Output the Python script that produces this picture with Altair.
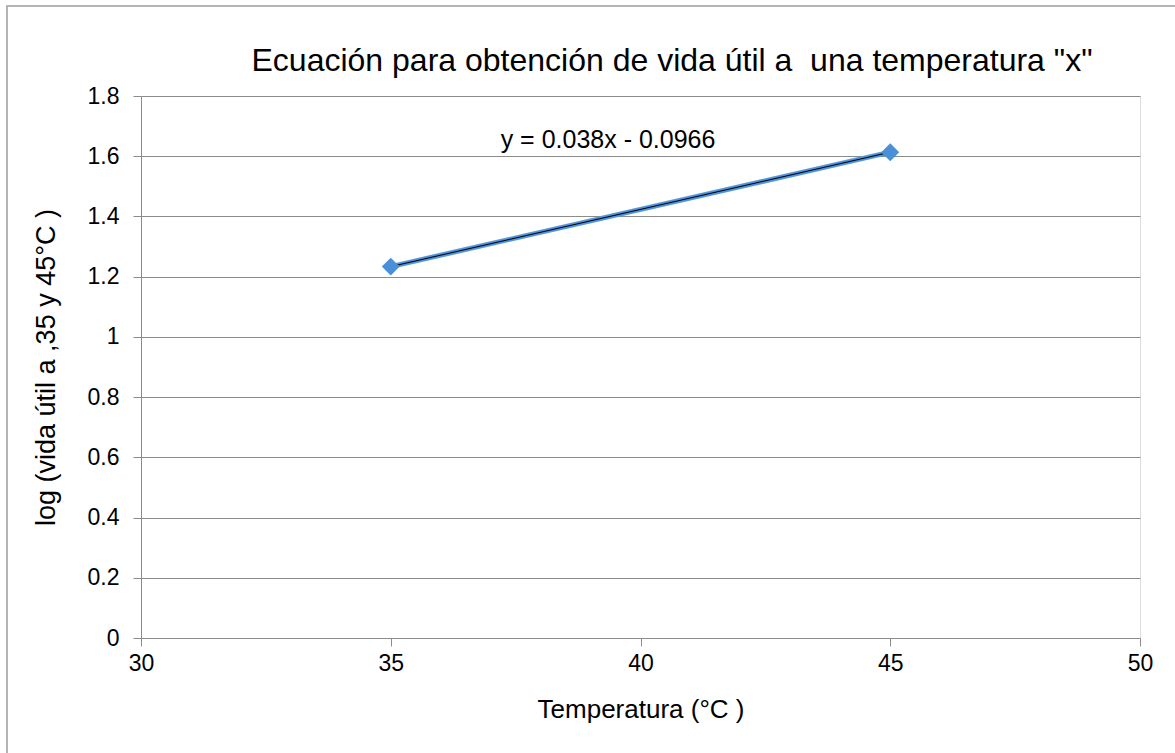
import altair as alt
import pandas as pd

temperatures = [35, 45]
log_life = [1.2334, 1.6134]
equation_label = ["y = 0.038x - 0.0966"]
equation_x = [39.35]
equation_y = [1.655]
chart_title = ['Ecuación para obtención de vida útil a\u00a0 una temperatura "x"']

FONT = "Liberation Sans"
GRID = "#8c8c8c"

df = pd.DataFrame({"temp": temperatures, "log": log_life})
lab = pd.DataFrame({"t": equation_label, "x": equation_x, "y": equation_y})
ttl = pd.DataFrame({"t": chart_title})

xscale = alt.Scale(domain=[30, 50], nice=False, zero=False)
yscale = alt.Scale(domain=[0, 1.8], nice=False)

xax = alt.Axis(values=[30, 35, 40, 45, 50], title="Temperatura (°C )", grid=False,
               tickSize=8, tickColor=GRID, domainColor=GRID, labelFontSize=23,
               labelFont=FONT, labelColor="#000", labelPadding=6, labelFlush=False,
               titleFont=FONT, titleFontSize=26, titleFontWeight="normal",
               titleColor="#000", titlePadding=21)
yax = alt.Axis(values=[0, 0.2, 0.4, 0.6, 0.8, 1, 1.2, 1.4, 1.6, 1.8], format=".2~f",
               title="log (vida útil a ,35 y 45°C )", grid=True, gridColor=GRID,
               tickSize=8, tickColor=GRID, domainColor=GRID, labelFontSize=23,
               labelFont=FONT, labelColor="#000", labelPadding=14, labelFlush=False,
               titleFont=FONT, titleFontSize=27, titleFontWeight="normal",
               titleColor="#000", titlePadding=27)

base = alt.Chart(df)

line = base.mark_line(color="#5b9bd5", strokeWidth=5).encode(
    x=alt.X("temp:Q", scale=xscale, axis=xax),
    y=alt.Y("log:Q", scale=yscale, axis=yax),
)
line2 = base.mark_line(color="#4a8fe0", strokeWidth=3).encode(
    x=alt.X("temp:Q", scale=xscale), y=alt.Y("log:Q", scale=yscale))
pts = base.mark_point(shape="diamond", filled=True, size=320, color="#4a90d9", opacity=1).encode(
    x=alt.X("temp:Q", scale=xscale), y=alt.Y("log:Q", scale=yscale))
trend = base.transform_regression("temp", "log").mark_line(color="#000000", strokeWidth=1).encode(
    x=alt.X("temp:Q", scale=xscale), y=alt.Y("log:Q", scale=yscale))
text = alt.Chart(lab).mark_text(font=FONT, fontSize=25, color="#000").encode(
    x=alt.X("x:Q", scale=xscale), y=alt.Y("y:Q", scale=yscale), text="t:N")
title = alt.Chart(ttl).mark_text(font=FONT, fontSize=32, color="#000", baseline="middle").encode(
    x=alt.value(531), y=alt.value(-35), text="t:N")
border = alt.Chart(df).mark_rect(fill=None, stroke="#b0b0b0", strokeWidth=1.5).encode(
    x=alt.value(-134), x2=alt.value(1040), y=alt.value(-90), y2=alt.value(660))

chart = alt.layer(border, line, line2, trend, pts, text, title).properties(
    width=999, height=542,
    padding={"left": 141, "top": 96, "right": 35, "bottom": 115},
    autosize=alt.AutoSizeParams(type="none"),
).configure_view(stroke=None).configure(background="white")

chart.save("out.html", embed_options={"renderer": "svg", "actions": False})
